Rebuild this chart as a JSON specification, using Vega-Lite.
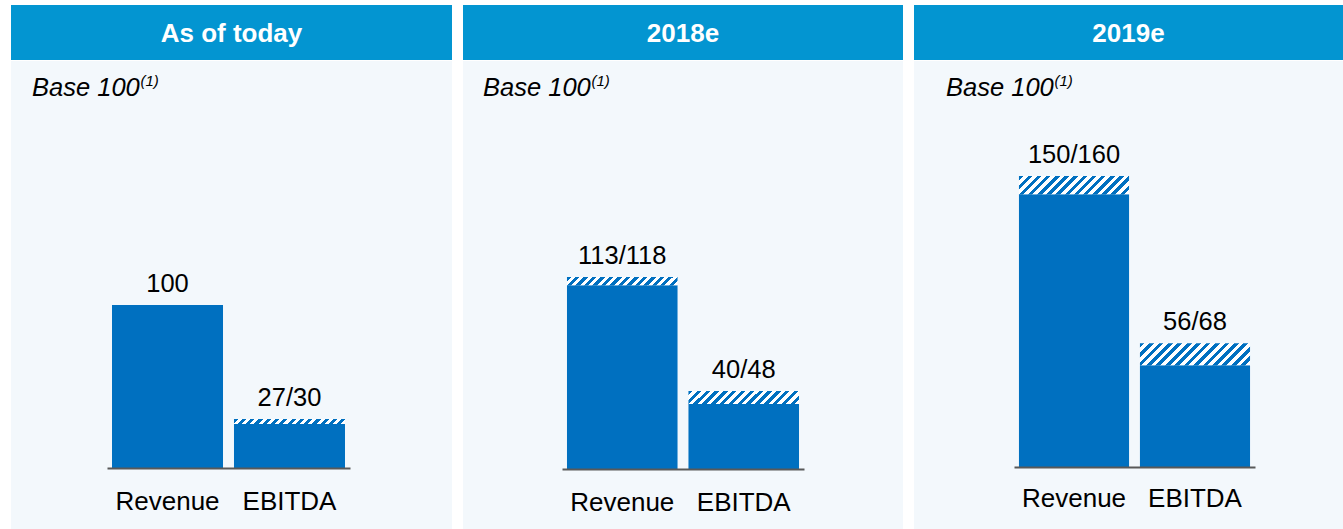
{
  "$schema": "https://vega.github.io/schema/vega-lite/v6.json",
  "padding": {"left": 11, "top": 5, "right": 0, "bottom": 0},
  "background": "#FFFFFF",
  "config": {"view": {"stroke": null}, "font": "Liberation Sans"},
  "datasets": {
    "panels": [{"panel": "As of today"}, {"panel": "2018e"}, {"panel": "2019e"}],
    "bars": [
      {"panel": "As of today", "cat": "Revenue", "base": 100, "high": 100, "label": "100"},
      {"panel": "As of today", "cat": "EBITDA", "base": 27, "high": 30, "label": "27/30"},
      {"panel": "2018e", "cat": "Revenue", "base": 113, "high": 118, "label": "113/118"},
      {"panel": "2018e", "cat": "EBITDA", "base": 40, "high": 48, "label": "40/48"},
      {"panel": "2019e", "cat": "Revenue", "base": 150, "high": 160, "label": "150/160"},
      {"panel": "2019e", "cat": "EBITDA", "base": 56, "high": 68, "label": "56/68"}
    ]
  },
  "spacing": 11,
  "hconcat": [
    {
      "spacing": 1,
      "vconcat": [
        {
          "width": 441, "height": 55,
          "view": {"fill": "#0395D1", "stroke": null},
          "data": {"name": "panels"},
          "transform": [{"filter": "datum.panel === 'As of today'"}],
          "mark": {"type": "text", "color": "#FFFFFF", "fontWeight": "bold", "fontSize": 26, "font": "Liberation Sans", "baseline": "middle", "dy": 1},
          "encoding": {"text": {"field": "panel"}}
        },
        {
          "width": 441, "height": 468,
          "view": {"fill": "#F3F8FC", "stroke": null},
          "title": {"text": "Base 100", "anchor": "start", "frame": "group", "orient": "top", "offset": -60, "baseline": "alphabetic", "dx": 21, "font": "Liberation Sans", "fontStyle": "italic", "fontWeight": "normal", "fontSize": 25.5, "color": "#000000"},
          "data": {"name": "bars"},
          "transform": [{"filter": "datum.panel === 'As of today'"}],
          "encoding": {
            "x": {"field": "cat", "type": "nominal", "sort": ["Revenue", "EBITDA"],
              "scale": {"range": [96, 339], "paddingInner": 0.09, "paddingOuter": 0.041},
              "axis": {"title": null, "ticks": false, "grid": false, "domainColor": "#595959", "domainWidth": 2, "labelFontSize": 26, "labelFont": "Liberation Sans", "labelColor": "#000000", "labelPadding": 20, "labelAngle": 0, "labelOverlap": false, "offset": -61, "zindex": 1}}
          },
          "layer": [
            {
              "mark": {"type": "bar", "fill": "#0070C0"},
              "encoding": {
                "y": {"field": "base", "type": "quantitative", "scale": {"domain": [-37.42, 249.69], "nice": false, "zero": false},
                  "axis": {"title": "(1)", "labels": false, "ticks": false, "domain": false, "grid": false, "minExtent": 0, "maxExtent": 0, "titleAngle": 0, "titleAlign": "left", "titleBaseline": "alphabetic", "titleX": 129, "titleY": 24, "titleFont": "Liberation Sans", "titleFontStyle": "italic", "titleFontWeight": "normal", "titleFontSize": 15, "titleColor": "#000000"}},
                "y2": {"datum": 0}
              }
            },
            {
              "transform": [{"filter": "datum.cat === 'EBITDA'"}],
              "mark": {"type": "bar", "fill": {"gradient": "linear", "x1": 0, "y1": 0, "x2": 1.042, "y2": 0.0459, "stops": [{"offset":0,"color":"#0070C0"},{"offset":0.0357,"color":"#0070C0"},{"offset":0.0357,"color":"#FFFFFF"},{"offset":0.0714,"color":"#FFFFFF"},{"offset":0.0714,"color":"#0070C0"},{"offset":0.1071,"color":"#0070C0"},{"offset":0.1071,"color":"#FFFFFF"},{"offset":0.1429,"color":"#FFFFFF"},{"offset":0.1429,"color":"#0070C0"},{"offset":0.1786,"color":"#0070C0"},{"offset":0.1786,"color":"#FFFFFF"},{"offset":0.2143,"color":"#FFFFFF"},{"offset":0.2143,"color":"#0070C0"},{"offset":0.25,"color":"#0070C0"},{"offset":0.25,"color":"#FFFFFF"},{"offset":0.2857,"color":"#FFFFFF"},{"offset":0.2857,"color":"#0070C0"},{"offset":0.3214,"color":"#0070C0"},{"offset":0.3214,"color":"#FFFFFF"},{"offset":0.3571,"color":"#FFFFFF"},{"offset":0.3571,"color":"#0070C0"},{"offset":0.3929,"color":"#0070C0"},{"offset":0.3929,"color":"#FFFFFF"},{"offset":0.4286,"color":"#FFFFFF"},{"offset":0.4286,"color":"#0070C0"},{"offset":0.4643,"color":"#0070C0"},{"offset":0.4643,"color":"#FFFFFF"},{"offset":0.5,"color":"#FFFFFF"},{"offset":0.5,"color":"#0070C0"},{"offset":0.5357,"color":"#0070C0"},{"offset":0.5357,"color":"#FFFFFF"},{"offset":0.5714,"color":"#FFFFFF"},{"offset":0.5714,"color":"#0070C0"},{"offset":0.6071,"color":"#0070C0"},{"offset":0.6071,"color":"#FFFFFF"},{"offset":0.6429,"color":"#FFFFFF"},{"offset":0.6429,"color":"#0070C0"},{"offset":0.6786,"color":"#0070C0"},{"offset":0.6786,"color":"#FFFFFF"},{"offset":0.7143,"color":"#FFFFFF"},{"offset":0.7143,"color":"#0070C0"},{"offset":0.75,"color":"#0070C0"},{"offset":0.75,"color":"#FFFFFF"},{"offset":0.7857,"color":"#FFFFFF"},{"offset":0.7857,"color":"#0070C0"},{"offset":0.8214,"color":"#0070C0"},{"offset":0.8214,"color":"#FFFFFF"},{"offset":0.8571,"color":"#FFFFFF"},{"offset":0.8571,"color":"#0070C0"},{"offset":0.8929,"color":"#0070C0"},{"offset":0.8929,"color":"#FFFFFF"},{"offset":0.9286,"color":"#FFFFFF"},{"offset":0.9286,"color":"#0070C0"},{"offset":0.9643,"color":"#0070C0"},{"offset":0.9643,"color":"#FFFFFF"},{"offset":1,"color":"#FFFFFF"}]}},
              "encoding": {
                "y": {"field": "base", "type": "quantitative"},
                "y2": {"field": "high"}
              }
            },
            {
              "mark": {"type": "text", "baseline": "alphabetic", "dy": -13, "fontSize": 25.5, "font": "Liberation Sans", "color": "#000000"},
              "encoding": {
                "y": {"field": "high", "type": "quantitative"},
                "text": {"field": "label"}
              }
            }
          ]
        }
      ]
    },
    {
      "spacing": 1,
      "vconcat": [
        {
          "width": 440, "height": 55,
          "view": {"fill": "#0395D1", "stroke": null},
          "data": {"name": "panels"},
          "transform": [{"filter": "datum.panel === '2018e'"}],
          "mark": {"type": "text", "color": "#FFFFFF", "fontWeight": "bold", "fontSize": 26, "font": "Liberation Sans", "baseline": "middle", "dy": 1},
          "encoding": {"text": {"field": "panel"}}
        },
        {
          "width": 440, "height": 468,
          "view": {"fill": "#F3F8FC", "stroke": null},
          "title": {"text": "Base 100", "anchor": "start", "frame": "group", "orient": "top", "offset": -60, "baseline": "alphabetic", "dx": 20, "font": "Liberation Sans", "fontStyle": "italic", "fontWeight": "normal", "fontSize": 25.5, "color": "#000000"},
          "data": {"name": "bars"},
          "transform": [{"filter": "datum.panel === '2018e'"}],
          "encoding": {
            "x": {"field": "cat", "type": "nominal", "sort": ["Revenue", "EBITDA"],
              "scale": {"range": [99, 341], "paddingInner": 0.09, "paddingOuter": 0.041},
              "axis": {"title": null, "ticks": false, "grid": false, "domainColor": "#595959", "domainWidth": 2, "labelFontSize": 26, "labelFont": "Liberation Sans", "labelColor": "#000000", "labelPadding": 20, "labelAngle": 0, "labelOverlap": false, "offset": -60, "zindex": 1}}
          },
          "layer": [
            {
              "mark": {"type": "bar", "fill": "#0070C0"},
              "encoding": {
                "y": {"field": "base", "type": "quantitative", "scale": {"domain": [-36.88, 250.77], "nice": false, "zero": false},
                  "axis": {"title": "(1)", "labels": false, "ticks": false, "domain": false, "grid": false, "minExtent": 0, "maxExtent": 0, "titleAngle": 0, "titleAlign": "left", "titleBaseline": "alphabetic", "titleX": 128, "titleY": 24, "titleFont": "Liberation Sans", "titleFontStyle": "italic", "titleFontWeight": "normal", "titleFontSize": 15, "titleColor": "#000000"}},
                "y2": {"datum": 0}
              }
            },
            {
              "transform": [{"filter": "datum.cat === 'Revenue'"}],
              "mark": {"type": "bar", "fill": {"gradient": "linear", "x1": 0, "y1": 0, "x2": 1.0681, "y2": 0.079, "stops": [{"offset":0,"color":"#0070C0"},{"offset":0.0357,"color":"#0070C0"},{"offset":0.0357,"color":"#FFFFFF"},{"offset":0.0714,"color":"#FFFFFF"},{"offset":0.0714,"color":"#0070C0"},{"offset":0.1071,"color":"#0070C0"},{"offset":0.1071,"color":"#FFFFFF"},{"offset":0.1429,"color":"#FFFFFF"},{"offset":0.1429,"color":"#0070C0"},{"offset":0.1786,"color":"#0070C0"},{"offset":0.1786,"color":"#FFFFFF"},{"offset":0.2143,"color":"#FFFFFF"},{"offset":0.2143,"color":"#0070C0"},{"offset":0.25,"color":"#0070C0"},{"offset":0.25,"color":"#FFFFFF"},{"offset":0.2857,"color":"#FFFFFF"},{"offset":0.2857,"color":"#0070C0"},{"offset":0.3214,"color":"#0070C0"},{"offset":0.3214,"color":"#FFFFFF"},{"offset":0.3571,"color":"#FFFFFF"},{"offset":0.3571,"color":"#0070C0"},{"offset":0.3929,"color":"#0070C0"},{"offset":0.3929,"color":"#FFFFFF"},{"offset":0.4286,"color":"#FFFFFF"},{"offset":0.4286,"color":"#0070C0"},{"offset":0.4643,"color":"#0070C0"},{"offset":0.4643,"color":"#FFFFFF"},{"offset":0.5,"color":"#FFFFFF"},{"offset":0.5,"color":"#0070C0"},{"offset":0.5357,"color":"#0070C0"},{"offset":0.5357,"color":"#FFFFFF"},{"offset":0.5714,"color":"#FFFFFF"},{"offset":0.5714,"color":"#0070C0"},{"offset":0.6071,"color":"#0070C0"},{"offset":0.6071,"color":"#FFFFFF"},{"offset":0.6429,"color":"#FFFFFF"},{"offset":0.6429,"color":"#0070C0"},{"offset":0.6786,"color":"#0070C0"},{"offset":0.6786,"color":"#FFFFFF"},{"offset":0.7143,"color":"#FFFFFF"},{"offset":0.7143,"color":"#0070C0"},{"offset":0.75,"color":"#0070C0"},{"offset":0.75,"color":"#FFFFFF"},{"offset":0.7857,"color":"#FFFFFF"},{"offset":0.7857,"color":"#0070C0"},{"offset":0.8214,"color":"#0070C0"},{"offset":0.8214,"color":"#FFFFFF"},{"offset":0.8571,"color":"#FFFFFF"},{"offset":0.8571,"color":"#0070C0"},{"offset":0.8929,"color":"#0070C0"},{"offset":0.8929,"color":"#FFFFFF"},{"offset":0.9286,"color":"#FFFFFF"},{"offset":0.9286,"color":"#0070C0"},{"offset":0.9643,"color":"#0070C0"},{"offset":0.9643,"color":"#FFFFFF"},{"offset":1,"color":"#FFFFFF"}]}},
              "encoding": {
                "y": {"field": "base", "type": "quantitative"},
                "y2": {"field": "high"}
              }
            },
            {
              "transform": [{"filter": "datum.cat === 'EBITDA'"}],
              "mark": {"type": "bar", "fill": {"gradient": "linear", "x1": 0, "y1": 0, "x2": 1.1029, "y2": 0.1305, "stops": [{"offset":0,"color":"#0070C0"},{"offset":0.0357,"color":"#0070C0"},{"offset":0.0357,"color":"#FFFFFF"},{"offset":0.0714,"color":"#FFFFFF"},{"offset":0.0714,"color":"#0070C0"},{"offset":0.1071,"color":"#0070C0"},{"offset":0.1071,"color":"#FFFFFF"},{"offset":0.1429,"color":"#FFFFFF"},{"offset":0.1429,"color":"#0070C0"},{"offset":0.1786,"color":"#0070C0"},{"offset":0.1786,"color":"#FFFFFF"},{"offset":0.2143,"color":"#FFFFFF"},{"offset":0.2143,"color":"#0070C0"},{"offset":0.25,"color":"#0070C0"},{"offset":0.25,"color":"#FFFFFF"},{"offset":0.2857,"color":"#FFFFFF"},{"offset":0.2857,"color":"#0070C0"},{"offset":0.3214,"color":"#0070C0"},{"offset":0.3214,"color":"#FFFFFF"},{"offset":0.3571,"color":"#FFFFFF"},{"offset":0.3571,"color":"#0070C0"},{"offset":0.3929,"color":"#0070C0"},{"offset":0.3929,"color":"#FFFFFF"},{"offset":0.4286,"color":"#FFFFFF"},{"offset":0.4286,"color":"#0070C0"},{"offset":0.4643,"color":"#0070C0"},{"offset":0.4643,"color":"#FFFFFF"},{"offset":0.5,"color":"#FFFFFF"},{"offset":0.5,"color":"#0070C0"},{"offset":0.5357,"color":"#0070C0"},{"offset":0.5357,"color":"#FFFFFF"},{"offset":0.5714,"color":"#FFFFFF"},{"offset":0.5714,"color":"#0070C0"},{"offset":0.6071,"color":"#0070C0"},{"offset":0.6071,"color":"#FFFFFF"},{"offset":0.6429,"color":"#FFFFFF"},{"offset":0.6429,"color":"#0070C0"},{"offset":0.6786,"color":"#0070C0"},{"offset":0.6786,"color":"#FFFFFF"},{"offset":0.7143,"color":"#FFFFFF"},{"offset":0.7143,"color":"#0070C0"},{"offset":0.75,"color":"#0070C0"},{"offset":0.75,"color":"#FFFFFF"},{"offset":0.7857,"color":"#FFFFFF"},{"offset":0.7857,"color":"#0070C0"},{"offset":0.8214,"color":"#0070C0"},{"offset":0.8214,"color":"#FFFFFF"},{"offset":0.8571,"color":"#FFFFFF"},{"offset":0.8571,"color":"#0070C0"},{"offset":0.8929,"color":"#0070C0"},{"offset":0.8929,"color":"#FFFFFF"},{"offset":0.9286,"color":"#FFFFFF"},{"offset":0.9286,"color":"#0070C0"},{"offset":0.9643,"color":"#0070C0"},{"offset":0.9643,"color":"#FFFFFF"},{"offset":1,"color":"#FFFFFF"}]}},
              "encoding": {
                "y": {"field": "base", "type": "quantitative"},
                "y2": {"field": "high"}
              }
            },
            {
              "mark": {"type": "text", "baseline": "alphabetic", "dy": -13, "fontSize": 25.5, "font": "Liberation Sans", "color": "#000000"},
              "encoding": {
                "y": {"field": "high", "type": "quantitative"},
                "text": {"field": "label"}
              }
            }
          ]
        }
      ]
    },
    {
      "spacing": 1,
      "vconcat": [
        {
          "width": 429, "height": 55,
          "view": {"fill": "#0395D1", "stroke": null},
          "data": {"name": "panels"},
          "transform": [{"filter": "datum.panel === '2019e'"}],
          "mark": {"type": "text", "color": "#FFFFFF", "fontWeight": "bold", "fontSize": 26, "font": "Liberation Sans", "baseline": "middle", "dy": 1},
          "encoding": {"text": {"field": "panel"}}
        },
        {
          "width": 429, "height": 468,
          "view": {"fill": "#F3F8FC", "stroke": null},
          "title": {"text": "Base 100", "anchor": "start", "frame": "group", "orient": "top", "offset": -60, "baseline": "alphabetic", "dx": 32, "font": "Liberation Sans", "fontStyle": "italic", "fontWeight": "normal", "fontSize": 25.5, "color": "#000000"},
          "data": {"name": "bars"},
          "transform": [{"filter": "datum.panel === '2019e'"}],
          "encoding": {
            "x": {"field": "cat", "type": "nominal", "sort": ["Revenue", "EBITDA"],
              "scale": {"range": [100, 341], "paddingInner": 0.09, "paddingOuter": 0.041},
              "axis": {"title": null, "ticks": false, "grid": false, "domainColor": "#595959", "domainWidth": 2, "labelFontSize": 26, "labelFont": "Liberation Sans", "labelColor": "#000000", "labelPadding": 18, "labelAngle": 0, "labelOverlap": false, "offset": -62, "zindex": 1}}
          },
          "layer": [
            {
              "mark": {"type": "bar", "fill": "#0070C0"},
              "encoding": {
                "y": {"field": "base", "type": "quantitative", "scale": {"domain": [-34.09, 223.2], "nice": false, "zero": false},
                  "axis": {"title": "(1)", "labels": false, "ticks": false, "domain": false, "grid": false, "minExtent": 0, "maxExtent": 0, "titleAngle": 0, "titleAlign": "left", "titleBaseline": "alphabetic", "titleX": 140, "titleY": 24, "titleFont": "Liberation Sans", "titleFontStyle": "italic", "titleFontWeight": "normal", "titleFontSize": 15, "titleColor": "#000000"}},
                "y2": {"datum": 0}
              }
            },
            {
              "transform": [{"filter": "datum.cat === 'Revenue'"}],
              "mark": {"type": "bar", "fill": {"gradient": "linear", "x1": 0, "y1": 0, "x2": 1.1343, "y2": 0.1876, "stops": [{"offset":0,"color":"#0070C0"},{"offset":0.0357,"color":"#0070C0"},{"offset":0.0357,"color":"#FFFFFF"},{"offset":0.0714,"color":"#FFFFFF"},{"offset":0.0714,"color":"#0070C0"},{"offset":0.1071,"color":"#0070C0"},{"offset":0.1071,"color":"#FFFFFF"},{"offset":0.1429,"color":"#FFFFFF"},{"offset":0.1429,"color":"#0070C0"},{"offset":0.1786,"color":"#0070C0"},{"offset":0.1786,"color":"#FFFFFF"},{"offset":0.2143,"color":"#FFFFFF"},{"offset":0.2143,"color":"#0070C0"},{"offset":0.25,"color":"#0070C0"},{"offset":0.25,"color":"#FFFFFF"},{"offset":0.2857,"color":"#FFFFFF"},{"offset":0.2857,"color":"#0070C0"},{"offset":0.3214,"color":"#0070C0"},{"offset":0.3214,"color":"#FFFFFF"},{"offset":0.3571,"color":"#FFFFFF"},{"offset":0.3571,"color":"#0070C0"},{"offset":0.3929,"color":"#0070C0"},{"offset":0.3929,"color":"#FFFFFF"},{"offset":0.4286,"color":"#FFFFFF"},{"offset":0.4286,"color":"#0070C0"},{"offset":0.4643,"color":"#0070C0"},{"offset":0.4643,"color":"#FFFFFF"},{"offset":0.5,"color":"#FFFFFF"},{"offset":0.5,"color":"#0070C0"},{"offset":0.5357,"color":"#0070C0"},{"offset":0.5357,"color":"#FFFFFF"},{"offset":0.5714,"color":"#FFFFFF"},{"offset":0.5714,"color":"#0070C0"},{"offset":0.6071,"color":"#0070C0"},{"offset":0.6071,"color":"#FFFFFF"},{"offset":0.6429,"color":"#FFFFFF"},{"offset":0.6429,"color":"#0070C0"},{"offset":0.6786,"color":"#0070C0"},{"offset":0.6786,"color":"#FFFFFF"},{"offset":0.7143,"color":"#FFFFFF"},{"offset":0.7143,"color":"#0070C0"},{"offset":0.75,"color":"#0070C0"},{"offset":0.75,"color":"#FFFFFF"},{"offset":0.7857,"color":"#FFFFFF"},{"offset":0.7857,"color":"#0070C0"},{"offset":0.8214,"color":"#0070C0"},{"offset":0.8214,"color":"#FFFFFF"},{"offset":0.8571,"color":"#FFFFFF"},{"offset":0.8571,"color":"#0070C0"},{"offset":0.8929,"color":"#0070C0"},{"offset":0.8929,"color":"#FFFFFF"},{"offset":0.9286,"color":"#FFFFFF"},{"offset":0.9286,"color":"#0070C0"},{"offset":0.9643,"color":"#0070C0"},{"offset":0.9643,"color":"#FFFFFF"},{"offset":1,"color":"#FFFFFF"}]}},
              "encoding": {
                "y": {"field": "base", "type": "quantitative"},
                "y2": {"field": "high"}
              }
            },
            {
              "transform": [{"filter": "datum.cat === 'EBITDA'"}],
              "mark": {"type": "bar", "fill": {"gradient": "linear", "x1": 0, "y1": 0, "x2": 1.153, "y2": 0.2288, "stops": [{"offset":0,"color":"#0070C0"},{"offset":0.0357,"color":"#0070C0"},{"offset":0.0357,"color":"#FFFFFF"},{"offset":0.0714,"color":"#FFFFFF"},{"offset":0.0714,"color":"#0070C0"},{"offset":0.1071,"color":"#0070C0"},{"offset":0.1071,"color":"#FFFFFF"},{"offset":0.1429,"color":"#FFFFFF"},{"offset":0.1429,"color":"#0070C0"},{"offset":0.1786,"color":"#0070C0"},{"offset":0.1786,"color":"#FFFFFF"},{"offset":0.2143,"color":"#FFFFFF"},{"offset":0.2143,"color":"#0070C0"},{"offset":0.25,"color":"#0070C0"},{"offset":0.25,"color":"#FFFFFF"},{"offset":0.2857,"color":"#FFFFFF"},{"offset":0.2857,"color":"#0070C0"},{"offset":0.3214,"color":"#0070C0"},{"offset":0.3214,"color":"#FFFFFF"},{"offset":0.3571,"color":"#FFFFFF"},{"offset":0.3571,"color":"#0070C0"},{"offset":0.3929,"color":"#0070C0"},{"offset":0.3929,"color":"#FFFFFF"},{"offset":0.4286,"color":"#FFFFFF"},{"offset":0.4286,"color":"#0070C0"},{"offset":0.4643,"color":"#0070C0"},{"offset":0.4643,"color":"#FFFFFF"},{"offset":0.5,"color":"#FFFFFF"},{"offset":0.5,"color":"#0070C0"},{"offset":0.5357,"color":"#0070C0"},{"offset":0.5357,"color":"#FFFFFF"},{"offset":0.5714,"color":"#FFFFFF"},{"offset":0.5714,"color":"#0070C0"},{"offset":0.6071,"color":"#0070C0"},{"offset":0.6071,"color":"#FFFFFF"},{"offset":0.6429,"color":"#FFFFFF"},{"offset":0.6429,"color":"#0070C0"},{"offset":0.6786,"color":"#0070C0"},{"offset":0.6786,"color":"#FFFFFF"},{"offset":0.7143,"color":"#FFFFFF"},{"offset":0.7143,"color":"#0070C0"},{"offset":0.75,"color":"#0070C0"},{"offset":0.75,"color":"#FFFFFF"},{"offset":0.7857,"color":"#FFFFFF"},{"offset":0.7857,"color":"#0070C0"},{"offset":0.8214,"color":"#0070C0"},{"offset":0.8214,"color":"#FFFFFF"},{"offset":0.8571,"color":"#FFFFFF"},{"offset":0.8571,"color":"#0070C0"},{"offset":0.8929,"color":"#0070C0"},{"offset":0.8929,"color":"#FFFFFF"},{"offset":0.9286,"color":"#FFFFFF"},{"offset":0.9286,"color":"#0070C0"},{"offset":0.9643,"color":"#0070C0"},{"offset":0.9643,"color":"#FFFFFF"},{"offset":1,"color":"#FFFFFF"}]}},
              "encoding": {
                "y": {"field": "base", "type": "quantitative"},
                "y2": {"field": "high"}
              }
            },
            {
              "mark": {"type": "text", "baseline": "alphabetic", "dy": -13, "fontSize": 25.5, "font": "Liberation Sans", "color": "#000000"},
              "encoding": {
                "y": {"field": "high", "type": "quantitative"},
                "text": {"field": "label"}
              }
            }
          ]
        }
      ]
    }
  ]
}
